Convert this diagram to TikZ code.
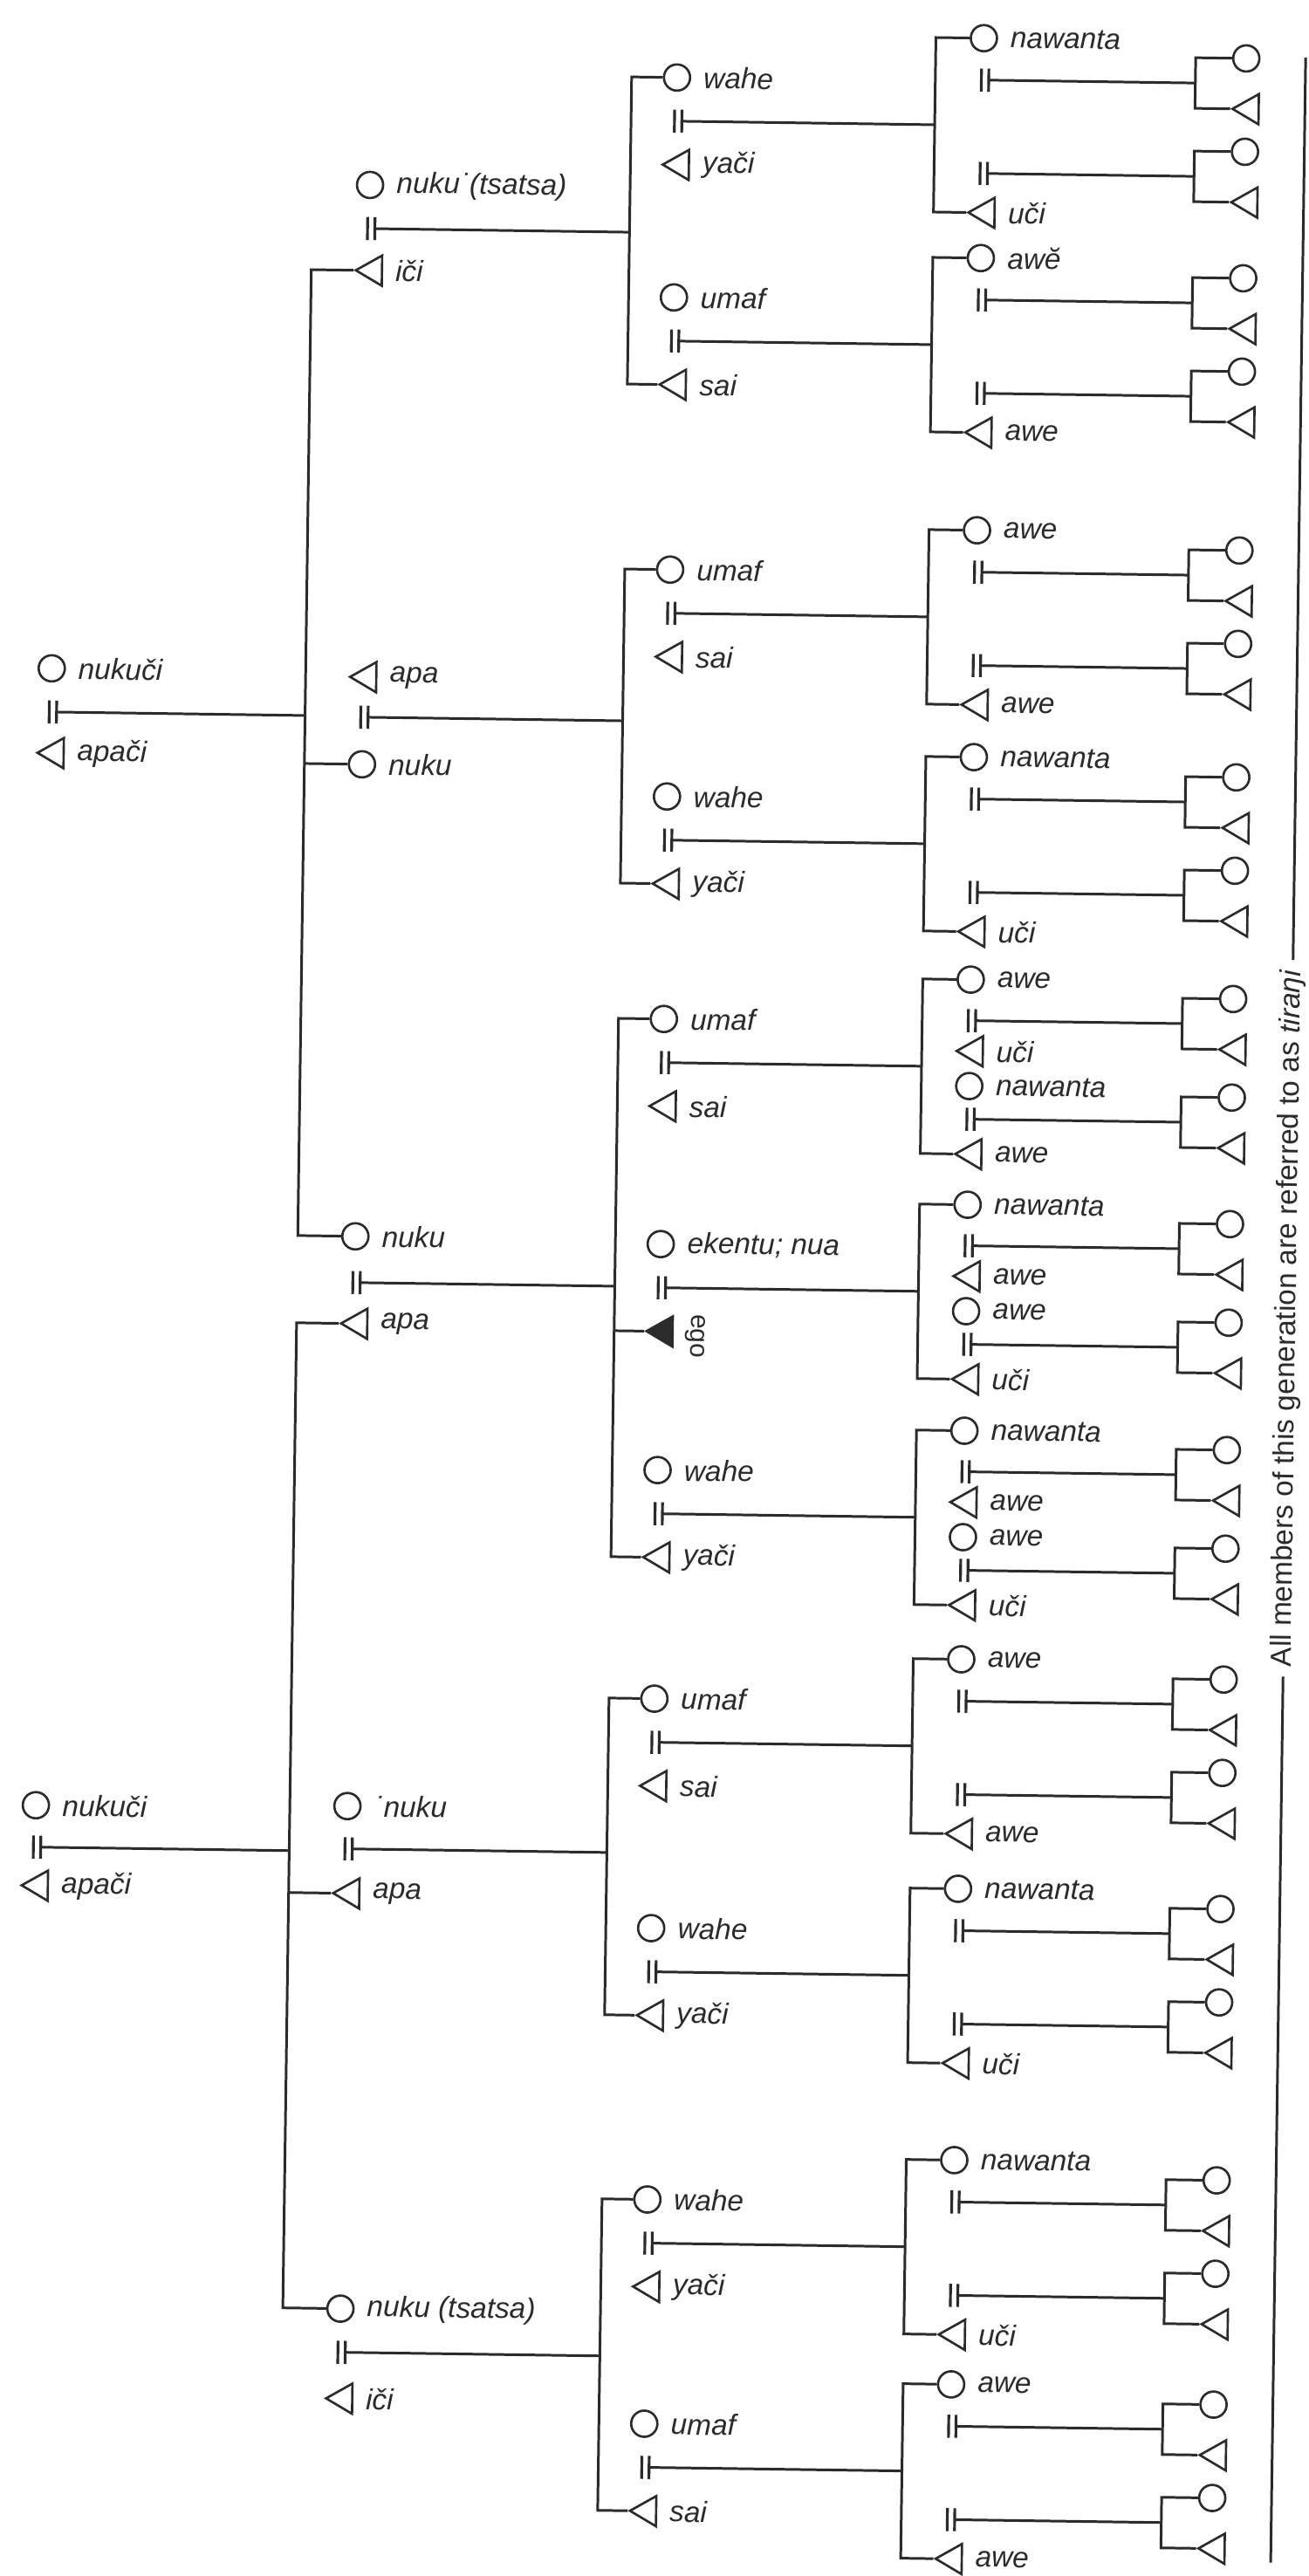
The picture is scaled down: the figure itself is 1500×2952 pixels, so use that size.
\documentclass[tikz,border=0pt]{standalone}
\usepackage{fontspec}
\setmainfont{Liberation Sans}
\usepackage{tikz}
\usetikzlibrary{
  shapes.geometric,
  calc
}
\definecolor{ink}{HTML}{2B2B2B}
\definecolor{paper}{HTML}{FFFFFF}
\tikzset{
  fem/.style={
    circle, draw=ink, line width=0.75pt,
    minimum size=3mm, inner sep=0pt,
  },
  mal/.style={
    regular polygon, regular polygon sides=3, shape border rotate=90,
    draw=ink, line width=0.75pt,
    minimum size=4mm, inner sep=0pt, xshift=0.5mm,
  },
  egomark/.style={
    mal, fill=ink,
  },
  barline/.style={
    draw=ink, line width=0.9pt,
  },
  mar/.style={
    minimum width=0.7mm, minimum height=2.5mm,
    inner sep=0pt, xshift=0.2mm,
    append after command={
      (\tikzlastnode.north west) edge[barline] (\tikzlastnode.south west)
      (\tikzlastnode.north east) edge[barline] (\tikzlastnode.south east)},
  },
  kinline/.style={
    draw=ink, line width=0.85pt,
  },
  kin/.style={
    font=\fontsize{9.5}{11}\selectfont\itshape, text=ink, inner sep=1pt,
  },
  gentext/.style={
    font=\fontsize{9.5}{11}\selectfont, text=ink, inner sep=3pt,
  },
}

\begin{document}
\begin{tikzpicture}[x=0.1mm, y=-0.1mm, label distance=1mm]

  \useasboundingbox[fill=paper] (0,0) rectangle (1500,2952);

  \begin{scope}[transform canvas={rotate=-0.8}]

  % ─── Column lines ───────────────────────────────────────────────────
  \coordinate (c1) at (361,0);
  \coordinate (c2) at (725,0);
  \coordinate (c3) at (1073,0);
  \coordinate (c4) at (1371,0);

  % ─── Grandparents ───────────────────────────────────────────────────
  \node[fem, label={[kin]east:nukuči}] (raf) at (70,765) {};
  \node[mar] (rab) at (70,815) {};
  \node[mal, label={[kin]east:apači}] (rat) at (70,862) {};

  \node[fem, label={[kin]east:nukuči}] (rbf) at (70,2068) {};
  \node[mar] (rbb) at (70,2116) {};
  \node[mal, label={[kin]east:apači}] (rbt) at (70,2160) {};

  % ─── Parents' generation ────────────────────────────────────────────
  \node[fem, label={[kin]east:nuku˙(tsatsa)}] (a1f) at (427,206) {};
  \node[mar] (a1b) at (427,256) {};
  \node[mal, label={[kin]east:iči}] (a1t) at (427,304) {};

  \node[mal, label={[kin]east:apa}] (a2t) at (427,770) {};
  \node[mar] (a2b) at (427,816) {};
  \node[fem, label={[kin]east:nuku}] (a2f) at (427,870) {};

  \node[fem, label={[kin]east:nuku}] (a3f) at (427,1411) {};
  \node[mar] (a3b) at (427,1464) {};
  \node[mal, label={[kin]east:apa}] (a3t) at (427,1511) {};

  \node[fem, label={[kin]east:˙nuku}] (b2f) at (427,2064) {};
  \node[mar] (b2b) at (427,2113) {};
  \node[mal, label={[kin]east:apa}] (b2t) at (427,2164) {};

  \node[fem, label={[kin]east:nuku (tsatsa)}] (b3f) at (427,2640) {};
  \node[mar] (b3b) at (427,2690) {};
  \node[mal, label={[kin]east:iči}] (b3t) at (427,2743) {};

  \draw[kinline] (rab.east) -- (rab.east -| c1);
  \draw[kinline] (a1t.west) -- (a1t.west -| c1) -- (a3f.west -| c1) -- (a3f.west);
  \draw[kinline] (a2f.west) -- (a2f.west -| c1);

  \draw[kinline] (rbb.east) -- (rbb.east -| c1);
  \draw[kinline] (a3t.west) -- (a3t.west -| c1) -- (b3f.west -| c1) -- (b3f.west);
  \draw[kinline] (b2t.west) -- (b2t.west -| c1);

  % ─── Ego's generation ───────────────────────────────────────────────
  \node[fem, label={[kin]east:wahe}] (a1wf) at (777,78) {};
  \node[mar] (a1wb) at (777,128) {};
  \node[mal, label={[kin]east:yači}] (a1wt) at (777,178) {};
  \node[fem, label={[kin]east:umaf}] (a1uf) at (777,330) {};
  \node[mar] (a1ub) at (777,380) {};
  \node[mal, label={[kin]east:sai}] (a1ut) at (777,430) {};

  \node[fem, label={[kin]east:umaf}] (a2uf) at (777,642) {};
  \node[mar] (a2ub) at (777,692) {};
  \node[mal, label={[kin]east:sai}] (a2ut) at (777,742) {};
  \node[fem, label={[kin]east:wahe}] (a2wf) at (777,902) {};
  \node[mar] (a2wb) at (777,952) {};
  \node[mal, label={[kin]east:yači}] (a2wt) at (777,1002) {};

  \node[fem, label={[kin]east:umaf}] (a3uf) at (777,1157) {};
  \node[mar] (a3ub) at (777,1207) {};
  \node[mal, label={[kin]east:sai}] (a3ut) at (777,1257) {};
  \node[fem, label={[kin]east:ekentu; nua}] (a3ef) at (777,1415) {};
  \node[mar] (a3eb) at (777,1465) {};
  \node[egomark] (a3et) at (777,1515) {};
  \node[gentext, font=\fontsize{8.5}{10}\selectfont, rotate=-90, inner sep=0pt]
    (egolab) at (818,1520) {ego};
  \node[fem, label={[kin]east:wahe}] (a3wf) at (777,1674) {};
  \node[mar] (a3wb) at (777,1724) {};
  \node[mal, label={[kin]east:yači}] (a3wt) at (777,1774) {};

  \node[fem, label={[kin]east:umaf}] (b2uf) at (777,1936) {};
  \node[mar] (b2ub) at (777,1986) {};
  \node[mal, label={[kin]east:sai}] (b2ut) at (777,2036) {};
  \node[fem, label={[kin]east:wahe}] (b2wf) at (777,2199) {};
  \node[mar] (b2wb) at (777,2249) {};
  \node[mal, label={[kin]east:yači}] (b2wt) at (777,2299) {};

  \node[fem, label={[kin]east:wahe}] (b3wf) at (777,2510) {};
  \node[mar] (b3wb) at (777,2560) {};
  \node[mal, label={[kin]east:yači}] (b3wt) at (777,2610) {};
  \node[fem, label={[kin]east:umaf}] (b3uf) at (777,2767) {};
  \node[mar] (b3ub) at (777,2817) {};
  \node[mal, label={[kin]east:sai}] (b3ut) at (777,2867) {};

  \draw[kinline] (a1b.east) -- (a1b.east -| c2);
  \draw[kinline] (a1wf.west) -- (a1wf.west -| c2) -- (a1ut.west -| c2) -- (a1ut.west);
  \draw[kinline] (a2b.east) -- (a2b.east -| c2);
  \draw[kinline] (a2uf.west) -- (a2uf.west -| c2) -- (a2wt.west -| c2) -- (a2wt.west);
  \draw[kinline] (a3b.east) -- (a3b.east -| c2);
  \draw[kinline] (a3uf.west) -- (a3uf.west -| c2) -- (a3wt.west -| c2) -- (a3wt.west);
  \draw[kinline] (a3et.west) -- (a3et.west -| c2);
  \draw[kinline] (b2b.east) -- (b2b.east -| c2);
  \draw[kinline] (b2uf.west) -- (b2uf.west -| c2) -- (b2wt.west -| c2) -- (b2wt.west);
  \draw[kinline] (b3b.east) -- (b3b.east -| c2);
  \draw[kinline] (b3wf.west) -- (b3wf.west -| c2) -- (b3ut.west -| c2) -- (b3ut.west);

  % ─── Children's generation ──────────────────────────────────────────
  % A1
  \node[fem, label={[kin]east:nawanta}] (a1w1) at (1128,28) {};
  \node[mar] (a1wm1) at (1128,76) {};
  \node[mar] (a1wm2) at (1128,183) {};
  \node[mal, label={[kin]east:uči}] (a1w4) at (1128,228) {};
  \node[fem, label={[kin]east:awĕ}] (a1u1) at (1128,280) {};
  \node[mar] (a1um1) at (1128,328) {};
  \node[mar] (a1um2) at (1128,435) {};
  \node[mal, label={[kin]east:awe}] (a1u4) at (1128,480) {};
  % A2
  \node[fem, label={[kin]east:awe}] (a2u1) at (1128,592) {};
  \node[mar] (a2um1) at (1128,640) {};
  \node[mar] (a2um2) at (1128,747) {};
  \node[mal, label={[kin]east:awe}] (a2u4) at (1128,792) {};
  \node[fem, label={[kin]east:nawanta}] (a2w1) at (1128,852) {};
  \node[mar] (a2wm1) at (1128,900) {};
  \node[mar] (a2wm2) at (1128,1007) {};
  \node[mal, label={[kin]east:uči}] (a2w4) at (1128,1052) {};
  % A3
  \node[fem, label={[kin]east:awe}] (a3u1) at (1128,1107) {};
  \node[mar] (a3um1) at (1128,1154) {};
  \node[mal, label={[kin]east:uči}] (a3u3) at (1128,1189) {};
  \node[fem, label={[kin]east:nawanta}] (a3u4) at (1128,1229) {};
  \node[mar] (a3um2) at (1128,1267) {};
  \node[mal, label={[kin]east:awe}] (a3u6) at (1128,1307) {};
  \node[fem, label={[kin]east:nawanta}] (a3e1) at (1128,1365) {};
  \node[mar] (a3em1) at (1128,1412) {};
  \node[mal, label={[kin]east:awe}] (a3e3) at (1128,1447) {};
  \node[fem, label={[kin]east:awe}] (a3e4) at (1128,1487) {};
  \node[mar] (a3em2) at (1128,1525) {};
  \node[mal, label={[kin]east:uči}] (a3e6) at (1128,1565) {};
  \node[fem, label={[kin]east:nawanta}] (a3w1) at (1128,1624) {};
  \node[mar] (a3wm1) at (1128,1671) {};
  \node[mal, label={[kin]east:awe}] (a3w3) at (1128,1706) {};
  \node[fem, label={[kin]east:awe}] (a3w4) at (1128,1746) {};
  \node[mar] (a3wm2) at (1128,1784) {};
  \node[mal, label={[kin]east:uči}] (a3w6) at (1128,1824) {};
  % B2
  \node[fem, label={[kin]east:awe}] (b2u1) at (1128,1886) {};
  \node[mar] (b2um1) at (1128,1934) {};
  \node[mar] (b2um2) at (1128,2041) {};
  \node[mal, label={[kin]east:awe}] (b2u4) at (1128,2086) {};
  \node[fem, label={[kin]east:nawanta}] (b2w1) at (1128,2149) {};
  \node[mar] (b2wm1) at (1128,2197) {};
  \node[mar] (b2wm2) at (1128,2304) {};
  \node[mal, label={[kin]east:uči}] (b2w4) at (1128,2349) {};
  % B3
  \node[fem, label={[kin]east:nawanta}] (b3w1) at (1128,2460) {};
  \node[mar] (b3wm1) at (1128,2508) {};
  \node[mar] (b3wm2) at (1128,2615) {};
  \node[mal, label={[kin]east:uči}] (b3w4) at (1128,2660) {};
  \node[fem, label={[kin]east:awe}] (b3u1) at (1128,2717) {};
  \node[mar] (b3um1) at (1128,2765) {};
  \node[mar] (b3um2) at (1128,2872) {};
  \node[mal, label={[kin]east:awe}] (b3u4) at (1128,2917) {};

  \draw[kinline] (a1wb.east) -- (a1wb.east -| c3);
  \draw[kinline] (a1w1.west) -- (a1w1.west -| c3) -- (a1w4.west -| c3) -- (a1w4.west);
  \draw[kinline] (a1ub.east) -- (a1ub.east -| c3);
  \draw[kinline] (a1u1.west) -- (a1u1.west -| c3) -- (a1u4.west -| c3) -- (a1u4.west);
  \draw[kinline] (a2ub.east) -- (a2ub.east -| c3);
  \draw[kinline] (a2u1.west) -- (a2u1.west -| c3) -- (a2u4.west -| c3) -- (a2u4.west);
  \draw[kinline] (a2wb.east) -- (a2wb.east -| c3);
  \draw[kinline] (a2w1.west) -- (a2w1.west -| c3) -- (a2w4.west -| c3) -- (a2w4.west);
  \draw[kinline] (a3ub.east) -- (a3ub.east -| c3);
  \draw[kinline] (a3u1.west) -- (a3u1.west -| c3) -- (a3u6.west -| c3) -- (a3u6.west);
  \draw[kinline] (a3eb.east) -- (a3eb.east -| c3);
  \draw[kinline] (a3e1.west) -- (a3e1.west -| c3) -- (a3e6.west -| c3) -- (a3e6.west);
  \draw[kinline] (a3wb.east) -- (a3wb.east -| c3);
  \draw[kinline] (a3w1.west) -- (a3w1.west -| c3) -- (a3w6.west -| c3) -- (a3w6.west);
  \draw[kinline] (b2ub.east) -- (b2ub.east -| c3);
  \draw[kinline] (b2u1.west) -- (b2u1.west -| c3) -- (b2u4.west -| c3) -- (b2u4.west);
  \draw[kinline] (b2wb.east) -- (b2wb.east -| c3);
  \draw[kinline] (b2w1.west) -- (b2w1.west -| c3) -- (b2w4.west -| c3) -- (b2w4.west);
  \draw[kinline] (b3wb.east) -- (b3wb.east -| c3);
  \draw[kinline] (b3w1.west) -- (b3w1.west -| c3) -- (b3w4.west -| c3) -- (b3w4.west);
  \draw[kinline] (b3ub.east) -- (b3ub.east -| c3);
  \draw[kinline] (b3u1.west) -- (b3u1.west -| c3) -- (b3u4.west -| c3) -- (b3u4.west);

  % ─── Grandchildren (unnamed) ────────────────────────────────────────
  \foreach \b in {a1wm1,a1wm2,a1um1,a1um2,a2um1,a2um2,a2wm1,a2wm2,
                  a3um1,a3um2,a3em1,a3em2,a3wm1,a3wm2,
                  b2um1,b2um2,b2wm1,b2wm2,b3wm1,b3wm2,b3um1,b3um2}{
    \node[fem] (\b dau) at ($(\b -| c4)+(58,-29)$) {};
    \node[mal] (\b son) at ($(\b -| c4)+(58,29)$) {};
    \draw[kinline] (\b.east) -- (\b -| c4);
    \draw[kinline] (\b dau.west) -- (\b dau.west -| c4)
      -- (\b son.west -| c4) -- (\b son.west);
  }

  % ─── Generation note ────────────────────────────────────────────────
  \coordinate (gtop) at (1497,45);
  \coordinate (gbot) at (1497,2916);
  \node[gentext, rotate=90] (gen) at (1497,1490)
    {All members of this generation are referred to as \textit{tiraŋi}};
  \draw[kinline] (gtop) -- (gen.east);
  \draw[kinline] (gen.west) -- (gbot);

  \end{scope}

\end{tikzpicture}
\end{document}
